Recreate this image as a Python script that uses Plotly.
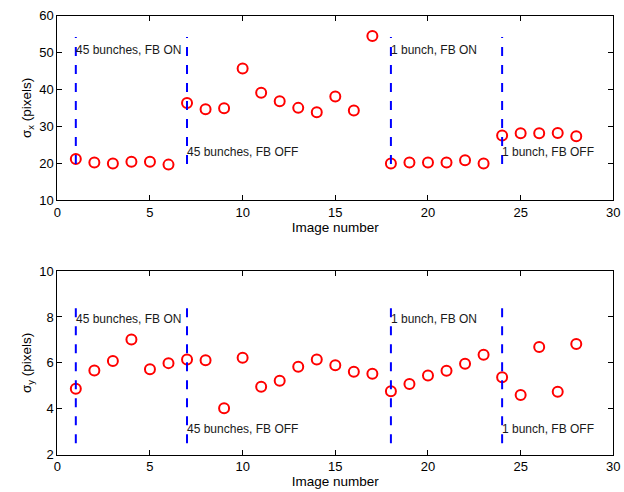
import plotly.graph_objects as go

images = list(range(1, 29))
sigma_x = [21.1, 20.2, 19.9, 20.4, 20.4, 19.6, 36.3, 34.6, 34.9, 45.7,
           39.1, 36.8, 35.0, 33.8, 38.1, 34.3, 54.5, 19.9, 20.2, 20.2,
           20.2, 20.8, 19.9, 27.5, 28.1, 28.1, 28.2, 27.3]
sigma_y = [4.87, 5.67, 6.08, 7.02, 5.72, 5.99, 6.15, 6.12, 4.02, 6.22,
           4.96, 5.22, 5.83, 6.15, 5.90, 5.61, 5.53, 4.76, 5.08, 5.45,
           5.66, 5.96, 6.35, 5.37, 4.60, 6.69, 4.74, 6.82]

boundaries = [1, 7, 18, 24]
labels = ["45 bunches, FB ON", "45 bunches, FB OFF", "1 bunch, FB ON", "1 bunch, FB OFF"]
top_line_range = [19.8, 54.2]
bot_line_range = [2.5, 8.5]
top_label_y = [50.7, 23.1, 50.7, 23.1]
bot_label_y = [7.9, 3.1, 7.9, 3.1]

FONT = "Liberation Sans, Arial, Helvetica, sans-serif"

fig = go.Figure()

for (xa, ya, vals, lr, ly) in [("x", "y", sigma_x, top_line_range, top_label_y),
                                ("x2", "y2", sigma_y, bot_line_range, bot_label_y)]:
    fig.add_trace(go.Scatter(x=images, y=vals, mode="markers", xaxis=xa, yaxis=ya,
                             marker=dict(symbol="circle-open", size=10, color="#ff0000",
                                         line=dict(width=2, color="#ff0000")),
                             showlegend=False, hoverinfo="skip"))
    for b in boundaries:
        fig.add_trace(go.Scatter(x=[b, b], y=lr, mode="lines", xaxis=xa, yaxis=ya,
                                 line=dict(color="#0000ff", width=2, dash="dash"),
                                 showlegend=False, hoverinfo="skip"))
    for b, t, yy in zip(boundaries, labels, ly):
        fig.add_annotation(x=b, y=yy, xref=xa, yref=ya, text=t, showarrow=False,
                           xanchor="left", yanchor="middle", xshift=-2,
                           font=dict(family=FONT, size=12, color="#1a1a1a"))

axis_common = dict(showline=True, linecolor="black", linewidth=1, mirror="ticks",
                   ticks="inside", ticklen=5, tickcolor="black", showgrid=False,
                   zeroline=False, automargin=False,
                   tickfont=dict(family=FONT, size=13, color="black"))

fig.update_layout(
    width=624, height=492,
    margin=dict(l=0, r=0, t=0, b=0),
    paper_bgcolor="white", plot_bgcolor="white",
    font=dict(family=FONT, size=13, color="black"),
    xaxis=dict(domain=[0.0918, 0.9829], anchor="y", range=[0, 30], dtick=5,
               title=dict(text="Image number", standoff=0, font=dict(size=13.5)), **axis_common),
    yaxis=dict(domain=[0.5935, 0.968], anchor="x", range=[10, 60], dtick=10,
               title=dict(text="σ<sub>x</sub> (pixels)", standoff=4, font=dict(size=13.5)), **axis_common),
    xaxis2=dict(domain=[0.0918, 0.9829], anchor="y2", range=[0, 30], dtick=5,
                title=dict(text="Image number", standoff=0, font=dict(size=13.5)), **axis_common),
    yaxis2=dict(domain=[0.0758, 0.449], anchor="x2", range=[2, 10], dtick=2,
                title=dict(text="σ<sub>y</sub> (pixels)", standoff=4, font=dict(size=13.5)), **axis_common),
)

fig.write_html("out.html")
